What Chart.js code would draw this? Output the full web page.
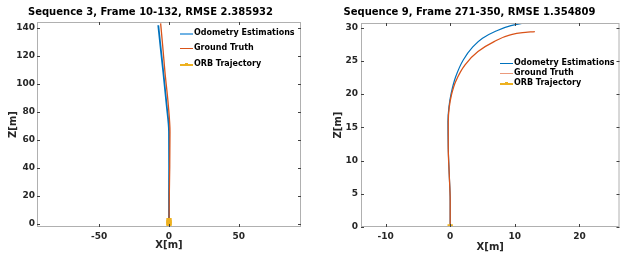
<!DOCTYPE html>
<html>
<head>
<meta charset="utf-8">
<script src="https://cdn.jsdelivr.net/npm/chart.js@4/dist/chart.umd.min.js"></script>
<style>
  body { margin: 0; background: #fff; }
  .panel { position: absolute; top: 0; width: 313px; height: 253px; }
  .legend { position: absolute; font: bold 8px "DejaVu Sans", sans-serif; color: #000; }
  .legend div { position: absolute; white-space: nowrap; height: 10px; line-height: 10px; }
  .legend i { position: absolute; left: 0; top: 5px; width: 13px; }
  .legend b { position: absolute; top: 4px; left: 5px; width: 3px; height: 3px; }
  .legend span { position: absolute; left: 14px; top: 0; }
</style>
</head>
<body>
<div class="panel" style="left:0"><canvas id="seq3"></canvas></div>
<div class="panel" style="left:313px"><canvas id="seq9"></canvas></div>
<div class="legend" id="leg3" style="left:180px;top:28px"></div>
<div class="legend" id="leg9" style="left:500px;top:58px"></div>
<script>
// series names + colours (matlab default order)
const seriesNames = ['Odometry Estimations', 'Ground Truth', 'ORB Trajectory'];
const blue = '#0072BD';
const orange = '#D95319';
const yellow = '#EDB120';

// Sequence 3 trajectories
const odo3X = [0, 0.0, 0.1, 0.0, -1.7, -4.1, -6.0, -7.7];
const odo3Z = [0, 20, 40, 66, 85, 108.6, 126, 142];
const gt3X = [0, 0.2, 0.5, 0.7, -0.5, -2.9, -4.5, -6.0];
const gt3Z = [0, 20, 40, 66, 85, 108.6, 127, 143.3];
const orb3X = [0, 0, 0];
const orb3Z = [0, 1.2, 2.5];

// Sequence 9 trajectories
const odo9X = [0, 0, -0.15, -0.3, -0.35, -0.2, 0.15, 0.85, 2.0, 3.5, 5.0, 7.1, 9.4, 10.9, 12.4];
const odo9Z = [0, 4, 8, 12, 15.8, 18, 20.1, 22.6, 25.1, 27.1, 28.4, 29.5, 30.3, 30.6, 30.8];
const gt9X = [0, 0, -0.15, -0.3, -0.3, -0.15, 0.2, 0.85, 2.3, 4.3, 6.8, 9.3, 11.2, 13.1];
const gt9Z = [0, 4, 8, 12, 15.8, 18, 19.9, 21.9, 24.4, 26.4, 27.9, 28.9, 29.25, 29.4];
const orb9X = [0];
const orb9Z = [0];

// tick labels
const xTicks3 = [-50, 0, 50];
const zTicks3 = [0, 20, 40, 60, 80, 100, 120, 140];
const xTicks9 = [-10, 0, 10, 20];
const zTicks9 = [0, 5, 10, 15, 20, 25, 30];

const pts = (xs, zs) => xs.map((x, i) => ({ x: x, y: zs[i] }));

// box around the axes with small inward ticks, like matlab
const boxPlugin = {
  id: 'box',
  afterDraw(chart) {
    const { ctx, chartArea: a, scales } = chart;
    ctx.save();
    ctx.strokeStyle = '#b0b0b0';
    ctx.lineWidth = 1;
    ctx.strokeRect(a.left + 0.5, a.top + 0.5, a.right - a.left - 1, a.bottom - a.top - 1);
    ctx.strokeStyle = '#404040';
    ctx.beginPath();
    scales.x.ticks.forEach(t => {
      const px = Math.round(scales.x.getPixelForValue(t.value)) + 0.5;
      ctx.moveTo(px, a.bottom); ctx.lineTo(px, a.bottom - 3);
      ctx.moveTo(px, a.top); ctx.lineTo(px, a.top + 3);
    });
    scales.y.ticks.forEach(t => {
      const py = Math.round(scales.y.getPixelForValue(t.value)) + 0.5;
      ctx.moveTo(a.left, py); ctx.lineTo(a.left + 3, py);
      ctx.moveTo(a.right, py); ctx.lineTo(a.right - 3, py);
    });
    ctx.stroke();
    ctx.restore();
  }
};

function makeChart(id, title, odo, gt, orb, xr, zr, xTicks, zTicks, lay) {
  const tickFont = { family: 'DejaVu Sans', weight: 'bold', size: 9 };
  const titleFont = { family: 'DejaVu Sans', weight: 'bold', size: 10 };
  // z grows along each path, so interpolate x as a function of z
  const curve = { showLine: true, pointRadius: 0, indexAxis: 'y', cubicInterpolationMode: 'monotone' };
  return new Chart(document.getElementById(id), {
    type: 'scatter',
    data: {
      datasets: [
        { ...curve, label: seriesNames[0], data: odo, borderColor: blue, borderWidth: lay.blueW, order: 2 },
        { ...curve, label: seriesNames[1], data: gt, borderColor: orange, borderWidth: 1.3, order: 1 },
        { label: seriesNames[2], data: orb, showLine: true, borderColor: yellow, borderWidth: 2.5,
          pointStyle: 'rect', pointRadius: 2, backgroundColor: yellow, pointBorderColor: yellow, order: 0 }
      ]
    },
    options: {
      responsive: false,
      animation: false,
      layout: { padding: { left: 0, right: lay.padRight, top: 0, bottom: 0 } },
      plugins: {
        legend: { display: false },
        tooltip: { enabled: false },
        title: { display: true, text: title, color: '#000', font: titleFont,
                 padding: { top: 6, bottom: lay.titleBottom } }
      },
      scales: {
        x: {
          type: 'linear', min: xr[0], max: xr[1],
          afterBuildTicks: s => { s.ticks = xTicks.map(v => ({ value: v })); },
          afterFit: s => { s.height = 26; },
          grid: { display: false, drawTicks: false },
          border: { display: false },
          ticks: { color: '#262626', font: tickFont, padding: 4, maxRotation: 0 },
          title: { display: true, text: 'X[m]', color: '#262626', font: titleFont,
                   padding: { top: 0, bottom: lay.xTitlePad } }
        },
        y: {
          type: 'linear', min: zr[0], max: zr[1],
          afterBuildTicks: s => { s.ticks = zTicks.map(v => ({ value: v })); },
          afterFit: s => { s.width = lay.yWidth; },
          grid: { display: false, drawTicks: false },
          border: { display: false },
          ticks: { color: '#262626', font: tickFont, padding: lay.yTickPad },
          title: { display: true, text: 'Z[m]', color: '#262626', font: titleFont,
                   padding: { top: lay.yTitlePad, bottom: 0 } }
        }
      }
    },
    plugins: [boxPlugin]
  });
}

function setSize(id) {
  const c = document.getElementById(id);
  c.width = 313; c.height = 253;
  c.style.width = '313px'; c.style.height = '253px';
}
setSize('seq3'); setSize('seq9');

makeChart('seq3', 'Sequence 3, Frame 10-132, RMSE 2.385932',
  pts(odo3X, odo3Z), pts(gt3X, gt3Z), pts(orb3X, orb3Z),
  [-94.6, 94.6], [-2.1, 144.3], xTicks3, zTicks3,
  { padRight: 12, yWidth: 37, titleBottom: 4, xTitlePad: 2, yTitlePad: 7, yTickPad: 2, blueW: 1.8 });

makeChart('seq9', 'Sequence 9, Frame 271-350, RMSE 1.354809',
  pts(odo9X, odo9Z), pts(gt9X, gt9Z), pts(orb9X, orb9Z),
  [-13.8, 26.2], [0, 30.7], xTicks9, zTicks9,
  { padRight: 0, yWidth: 48, titleBottom: 5, xTitlePad: 0, yTitlePad: 19, yTickPad: 3, blueW: 1.2 });

// html legends inside the axes
function legend(id, gap, colours) {
  const el = document.getElementById(id);
  seriesNames.forEach((name, i) => {
    const row = document.createElement('div');
    row.style.top = (i * gap) + 'px';
    const line = document.createElement('i');
    line.style.borderTop = (i === 0 ? colours[0] : (i === 2 ? 2 : 1.5)) + 'px solid ' + colours[i + 1];
    row.appendChild(line);
    if (i === 2) {
      const m = document.createElement('b');
      m.style.background = colours[3];
      row.appendChild(m);
    }
    const t = document.createElement('span');
    t.textContent = name;
    row.appendChild(t);
    el.appendChild(row);
  });
}
legend('leg3', 15.3, [2.5, '#6fb2e4', orange, yellow]);
legend('leg9', 10.2, [1, blue, '#eb9a7c', yellow]);
</script>
</body>
</html>
